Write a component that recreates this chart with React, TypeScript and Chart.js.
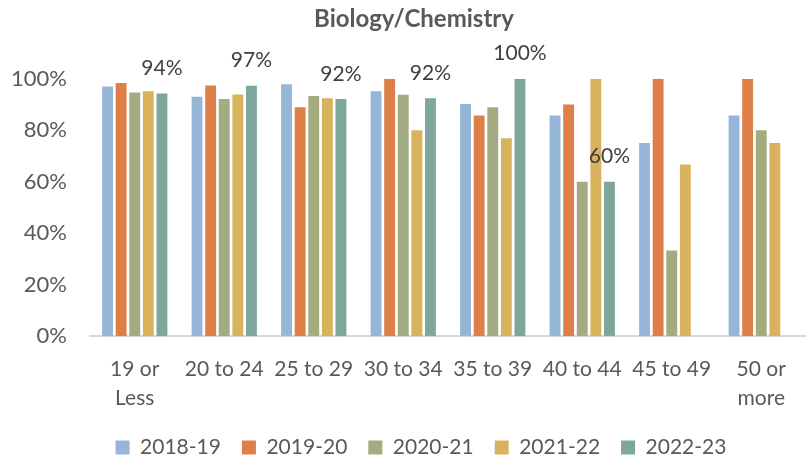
import React, { useEffect, useRef } from "react";
import { Chart, registerables } from "chart.js";

Chart.register(...registerables);

const categories: (string | string[])[] = [
  ["19 or", "Less"],
  "20 to 24",
  "25 to 29",
  "30 to 34",
  "35 to 39",
  "40 to 44",
  "45 to 49",
  ["50 or", "more"],
];

const seriesNames = ["2018-19", "2019-20", "2020-21", "2021-22", "2022-23"];

const v2018 = [97.0, 93.0, 97.8, 95.1, 90.2, 85.7, 75.0, 85.7];
const v2019 = [98.3, 97.4, 88.9, 100, 85.7, 90.0, 100, 100];
const v2020 = [94.6, 92.1, 93.3, 93.8, 88.9, 60.0, 33.3, 80.0];
const v2021 = [95.1, 93.9, 92.4, 80.0, 76.9, 100, 66.7, 75.0];
const v2022 = [94.3, 97.3, 92.1, 92.4, 100, 60.0, null, null];

const colors = ["#95B6D6", "#DE7F47", "#A5AB81", "#D9B25D", "#7DA79B"];

const yTicks = [0, 20, 40, 60, 80, 100];

const FONT = "Lato, 'Liberation Sans', sans-serif";

const labelPlugin = {
  id: "lastSeriesLabels",
  afterDatasetsDraw(chart: any) {
    const idx = 4;
    const meta = chart.getDatasetMeta(idx);
    const data = chart.data.datasets[idx].data;
    const ctx = chart.ctx;
    ctx.save();
    ctx.font = `21px ${FONT}`;
    ctx.fillStyle = "#404040";
    ctx.textAlign = "center";
    ctx.textBaseline = "middle";
    meta.data.forEach((el: any, i: number) => {
      const v = data[i];
      if (v === null || v === undefined) return;
      ctx.fillText(Math.round(v) + "%", el.x, el.y - 25);
    });
    ctx.restore();
  },
};

const shiftPlugin = {
  id: "shiftBlocks",
  afterLayout(chart: any) {
    if (chart.legend) {
      chart.legend.left += 36;
      chart.legend.top += 7;
      chart.legend.bottom += 7;
    }
    if (chart.titleBlock) {
      chart.titleBlock.left += 22;
    }
  },
};

export default function App() {
  const ref = useRef<HTMLCanvasElement>(null);
  useEffect(() => {
    document.body.style.margin = "0";
    const datasets = [v2018, v2019, v2020, v2021, v2022].map((d, i) => ({
      label: seriesNames[i],
      data: d,
      backgroundColor: colors[i],
      borderWidth: 0,
      categoryPercentage: 0.76,
      barPercentage: 0.8,
    }));
    const chart = new Chart(ref.current!, {
      type: "bar",
      data: { labels: categories as any, datasets: datasets as any },
      plugins: [labelPlugin, shiftPlugin],
      options: {
        animation: false,
        responsive: false,
        layout: { padding: { left: 0, right: 0, top: 0, bottom: 0 } },
        plugins: {
          title: {
            display: true,
            text: "Biology/Chemistry",
            color: "#595959",
            font: { family: FONT, size: 24, weight: "bold", lineHeight: 1.2 },
            padding: { top: 4.6, bottom: 45.3 },
          },
          legend: {
            position: "bottom",
            labels: {
              boxWidth: 14,
              boxHeight: 14,
              padding: 21,
              color: "#595959",
              font: { family: FONT, size: 21 },
            },
          },
          tooltip: { enabled: false },
        },
        scales: {
          x: {
            grid: { display: false, drawTicks: false },
            border: { display: true, color: "#D9D9D9", width: 2 },
            ticks: {
              color: "#595959",
              padding: 19,
              maxRotation: 0,
              autoSkip: false,
              font: { family: FONT, size: 21, lineHeight: 1.38 },
            },
            afterFit(scale: any) {
              scale.height = 72.8;
            },
          },
          y: {
            min: 0,
            max: 100,
            grid: { display: false, drawTicks: false },
            border: { display: false },
            afterBuildTicks(scale: any) {
              scale.ticks = yTicks.map((v) => ({ value: v }));
            },
            ticks: {
              color: "#595959",
              padding: 23,
              font: { family: FONT, size: 22 },
              callback: (v: any) => v + "%",
            },
            afterFit(scale: any) {
              scale.width = 90;
            },
          },
        },
      },
    });
    return () => chart.destroy();
  }, []);
  return (
    <div style={{ width: 806, height: 461 }}>
      <canvas ref={ref} width={806} height={461} />
    </div>
  );
}
